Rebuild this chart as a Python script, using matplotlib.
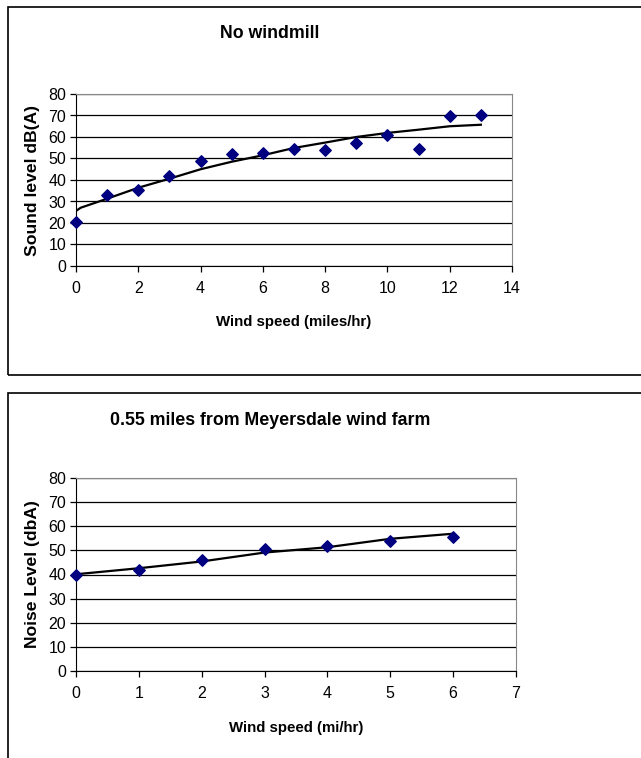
# Wind speed vs sound level - two Excel-style scatter panels
import matplotlib.pyplot as plt
from matplotlib.patches import Rectangle

plt.rcParams["font.family"] = ["Liberation Sans", "DejaVu Sans"]

# top panel: no windmill
speed_a = [0, 1, 2, 3, 4, 5, 6, 7, 8, 9, 10, 11, 12, 13]
level_a = [20.3, 33.2, 35.5, 41.7, 49.0, 51.9, 52.7, 54.4, 53.8, 57.4, 60.9, 54.4, 69.6, 70.4]
trend_x_a = [0, 0.15, 1, 2, 3, 4, 5, 6, 7, 8, 9, 10, 11, 12, 13]
trend_y_a = [25.6, 27.1, 31.3, 36.4, 40.6, 45.0, 48.5, 51.5, 54.9, 57.4, 60.0, 61.9, 63.4, 65.0, 65.7]

# bottom panel: 0.55 miles from Meyersdale wind farm
speed_b = [0, 1, 2, 3, 4, 5, 6]
level_b = [39.6, 41.9, 46.0, 50.5, 51.9, 53.8, 55.4]
trend_y_b = [40.1, 42.6, 45.4, 49.1, 51.3, 54.8, 56.9]

W, H = 641, 758
fig = plt.figure(figsize=(W / 100, H / 100), dpi=100)

# outer frames like the pasted Excel charts
fig.patches.append(Rectangle((8 / W, 1 - 375 / H), 640 / W, 368 / H, transform=fig.transFigure,
                             fill=False, edgecolor="black", linewidth=1.2))
fig.patches.append(Rectangle((8 / W, 1 - 760 / H), 640 / W, 367 / H, transform=fig.transFigure,
                             fill=False, edgecolor="black", linewidth=1.2))


def panel(rect, xs, ys, tx, ty, xmax, xstep, title, xlabel, ylabel, title_y, xlabel_y):
    l, t, r, b = rect
    ax = fig.add_axes([l / W, 1 - b / H, (r - l) / W, (b - t) / H])
    ax.set_xlim(0, xmax)
    ax.set_ylim(0, 80)
    ax.set_xticks(range(0, xmax + 1, xstep))
    ax.set_yticks(range(0, 81, 10))
    ax.yaxis.grid(True, color="black", linewidth=0.9)
    ax.set_axisbelow(True)
    for s in ("top", "right"):
        ax.spines[s].set_color("#888888")
    for s in ("left", "bottom"):
        ax.spines[s].set_color("black")
    ax.tick_params(direction="out", length=4, width=0.9, labelsize=11.5, color="black")
    ax.tick_params(axis="x", pad=7)
    ax.tick_params(axis="y", pad=3)
    ax.plot(tx, ty, color="black", linewidth=1.6, zorder=3)
    ax.scatter(xs, ys, marker="D", s=34, color="#000080", zorder=4, clip_on=False)
    fig.text(270 / W, 1 - title_y / H, title, ha="center", va="center",
             fontsize=12.8, fontweight="bold")
    fig.text((l + r) / 2 / W, 1 - xlabel_y / H, xlabel, ha="center", va="center",
             fontsize=10.8, fontweight="bold")
    fig.text(33 / W, 1 - (t + b) / 2 / H, ylabel, ha="center", va="center",
             rotation=90, fontsize=12.6, fontweight="bold")
    return ax


panel((76, 94, 512, 266), speed_a, level_a, trend_x_a, trend_y_a, 14, 2,
      "No windmill", "Wind speed (miles/hr)", "Sound level dB(A)", 33, 322)
panel((76, 478, 516, 671), speed_b, level_b, speed_b, trend_y_b, 7, 1,
      "0.55 miles from Meyersdale wind farm", "Wind speed (mi/hr)", "Noise Level (dbA)", 420, 728)

plt.savefig("out.png", dpi=100)
